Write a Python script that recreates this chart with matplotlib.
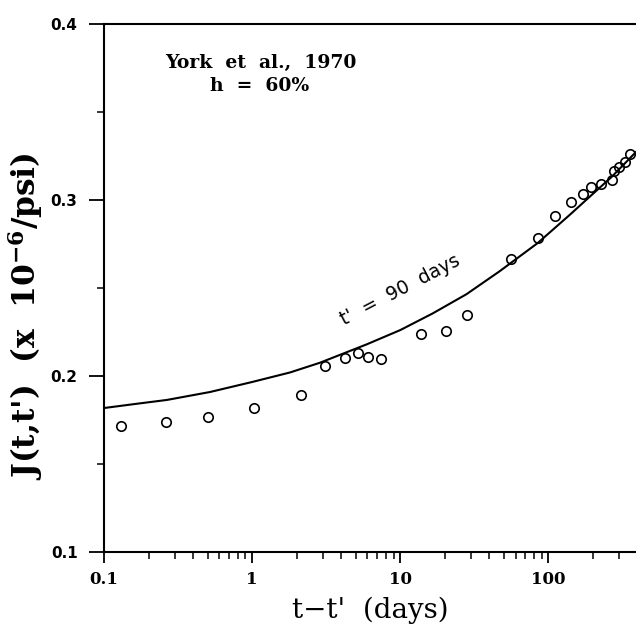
import numpy as np
import matplotlib
matplotlib.use('Agg')
import matplotlib.pyplot as plt
import matplotlib.ticker as ticker

# measured creep compliance (York et al., 1970), t' = 90 days
t_obs = [0.130, 0.262, 0.502, 1.03, 2.13, 3.09, 4.22, 5.16, 6.03, 7.38,
         13.9, 20.2, 28.0, 55.5, 84.5, 110, 141, 170, 195, 225, 267,
         275, 301, 331, 358]
j_obs = [0.1716, 0.1739, 0.1767, 0.1818, 0.1892, 0.2057, 0.2102, 0.2131,
         0.2108, 0.2097, 0.2239, 0.2256, 0.2347, 0.2665, 0.2784, 0.2909,
         0.2989, 0.3034, 0.3074, 0.3091, 0.3114, 0.3165, 0.3187, 0.3216,
         0.3261]

# model curve
t_fit = [0.1, 0.162, 0.266, 0.519, 1.0, 1.80, 2.86, 5.94, 10, 16.5,
         28.0, 46.8, 84.5, 139, 189, 267, 390]
j_fit = [0.1818, 0.1841, 0.1864, 0.1909, 0.1966, 0.2020, 0.2075, 0.2180,
         0.2261, 0.2355, 0.2465, 0.2595, 0.2755, 0.2915, 0.3017, 0.3131,
         0.3273]

y_ticks = [0.1, 0.2, 0.3, 0.4]
x_ticks = [0.1, 1, 10, 100]
x_ticklabels = ['0.1', '1', '10', '100']

plt.rcParams['mathtext.fontset'] = 'dejavuserif'

fig = plt.figure(figsize=(6.36, 6.35), dpi=100)
ax = fig.add_axes([104/636, 83/635, 532/636, 528/635])

ax.plot(t_fit, j_fit, color='black', linewidth=1.5)
ax.plot(t_obs, j_obs, linestyle='none', marker='o', markersize=6.8,
        markerfacecolor='none', markeredgecolor='black', markeredgewidth=1.2)

ax.set_xscale('log')
ax.set_xlim(0.1, 390)
ax.set_ylim(0.1, 0.4)

ax.set_xticks(x_ticks)
ax.set_xticklabels(x_ticklabels, family='DejaVu Serif', fontsize=12, fontweight='bold')
ax.xaxis.set_minor_locator(ticker.LogLocator(base=10, subs=np.arange(2, 10)))
ax.xaxis.set_minor_formatter(ticker.NullFormatter())

ax.set_yticks(y_ticks)
ax.set_yticklabels([f'{v:.1f}' for v in y_ticks], family='DejaVu Sans',
                   fontsize=11, fontweight='bold')
ax.yaxis.set_minor_locator(ticker.MultipleLocator(0.05))

ax.tick_params(axis='both', which='major', direction='out', length=8, width=1.3, color='black')
ax.tick_params(axis='y', which='major', length=11, pad=8)
ax.tick_params(axis='x', which='major', pad=6)
ax.tick_params(axis='both', which='minor', direction='out', length=5, width=1.1)

for s in ['left', 'bottom', 'top']:
    ax.spines[s].set_linewidth(1.5)
ax.spines['right'].set_visible(False)

ax.set_xlabel("t\u2212t'  (days)", family='DejaVu Serif', fontsize=20, labelpad=6)
ax.set_ylabel(r"J(t,t')  (x  10$^{\mathbf{-6}}$/psi)", family='DejaVu Serif',
              fontsize=22.5, fontweight='bold')
ax.yaxis.set_label_coords(-0.11, 0.447)

ax.text(0.1147, 0.926, 'York  et  al.,  1970', transform=ax.transAxes,
        family='DejaVu Serif', fontsize=13.5, fontweight='bold', ha='left', va='center')
ax.text(0.199, 0.8826, 'h  =  60%', transform=ax.transAxes,
        family='DejaVu Serif', fontsize=13.5, fontweight='bold', ha='left', va='center')

ax.text(10, 0.2489, "t'  =  90  days", family='DejaVu Sans', fontsize=13.5,
        rotation=27.5, rotation_mode='anchor', ha='center', va='center')

fig.savefig('out.png', dpi=100)
